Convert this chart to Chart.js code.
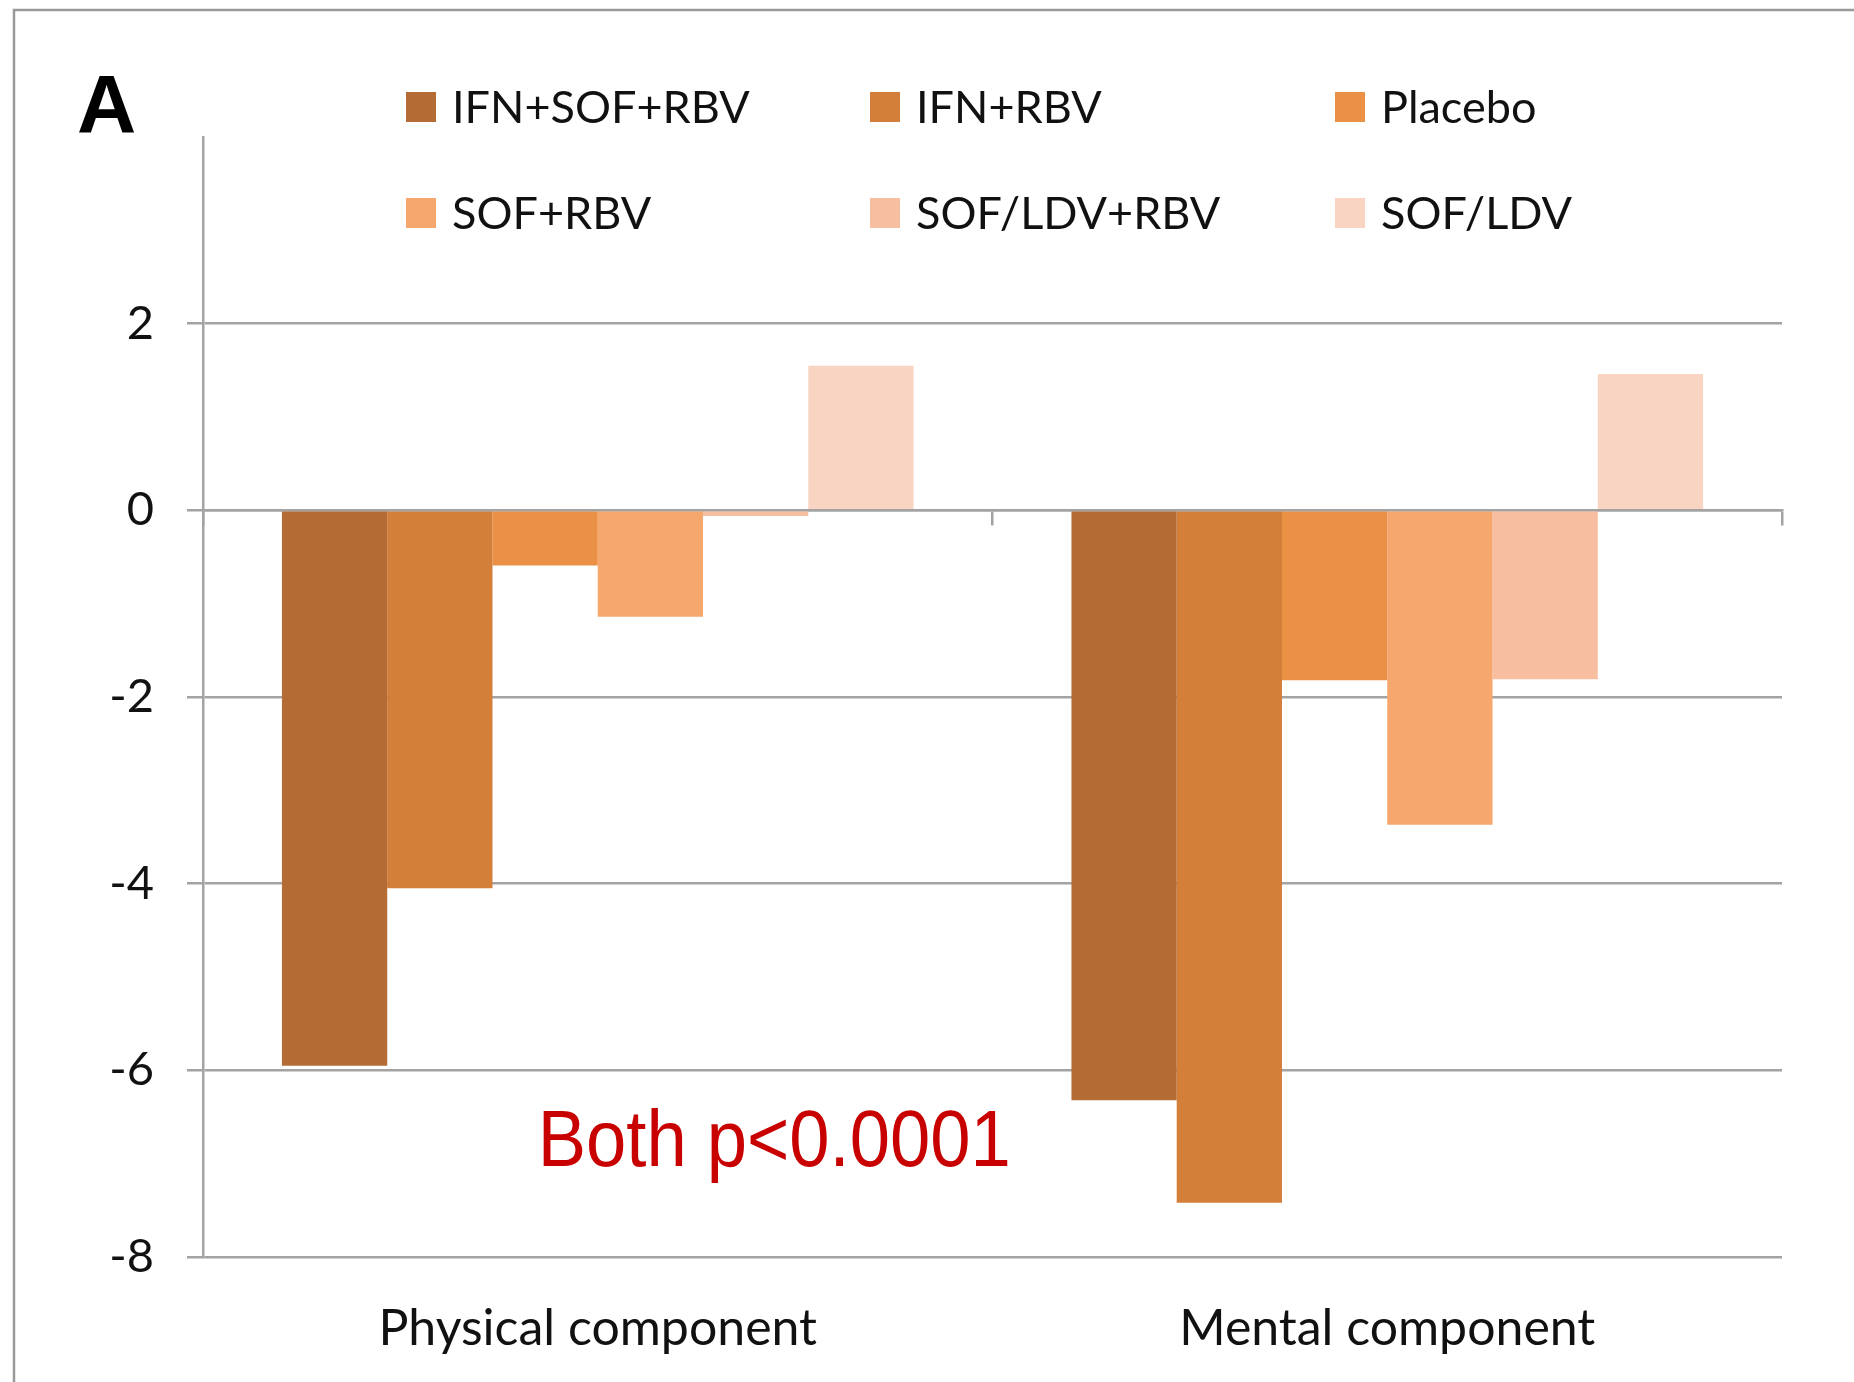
<!DOCTYPE html>
<html>
<head>
<meta charset="utf-8">
<title>Change in SF-36 component scores</title>
<script src="https://cdn.jsdelivr.net/npm/chart.js@4/dist/chart.umd.min.js"></script>
<style>
  html, body { margin: 0; padding: 0; background: #ffffff; }
  #wrap { position: relative; width: 1854px; height: 1382px; }
</style>
</head>
<body>
<div id="wrap"><canvas id="chart" width="1854" height="1382"></canvas></div>
<script>
// Categories and treatment arms
const categories = ['Physical component', 'Mental component'];
const seriesNames = ['IFN+SOF+RBV', 'IFN+RBV', 'Placebo', 'SOF+RBV', 'SOF/LDV+RBV', 'SOF/LDV'];

// Mean change from baseline, one value per category
const ifnSofRbv = [-5.95, -6.32];
const ifnRbv    = [-4.05, -7.42];
const placebo   = [-0.59, -1.82];
const sofRbv    = [-1.14, -3.37];
const sofLdvRbv = [-0.06, -1.81];
const sofLdv    = [1.55, 1.46];

const seriesColors = ['#B46C34', '#D37F3A', '#EB9145', '#F6A76E', '#F8BEA0', '#F9D4C2'];
const yTicks = [-8, -6, -4, -2, 0, 2, 4];
const panelLabel = 'A';
const noteText = 'Both p<0.0001';

const seriesValues = [ifnSofRbv, ifnRbv, placebo, sofRbv, sofLdvRbv, sofLdv];
const GRID = '#a3a3a3';
const TEXT = '#111111';

// Legend laid out as a 3-column grid above the plot
const gridLegend = {
  id: 'gridLegend',
  afterDraw(chart) {
    const ctx = chart.ctx;
    const colX = [406, 870, 1335];
    const rowY = [107, 213];
    const box = 30;
    ctx.save();
    ctx.font = '45px Lato';
    ctx.textBaseline = 'middle';
    ctx.textAlign = 'left';
    chart.data.datasets.forEach((ds, i) => {
      const x = colX[i % 3];
      const y = rowY[Math.floor(i / 3)];
      ctx.fillStyle = ds.backgroundColor;
      ctx.fillRect(x, y - box / 2, box, box);
      ctx.fillStyle = TEXT;
      ctx.fillText(ds.label, x + 46, y + 1);
    });
    ctx.restore();
  }
};

// Panel frame, panel letter and significance note
const decorations = {
  id: 'decorations',
  afterDraw(chart) {
    const ctx = chart.ctx;
    const area = chart.chartArea;
    const yScale = chart.scales.y;
    ctx.save();
    ctx.strokeStyle = '#9a9a9a';
    ctx.lineWidth = 2.5;
    ctx.beginPath();
    ctx.moveTo(14, chart.height);
    ctx.lineTo(14, 10);
    ctx.lineTo(chart.width, 10);
    ctx.stroke();

    ctx.fillStyle = '#000000';
    ctx.font = 'bold 82px "Liberation Sans"';
    ctx.textBaseline = 'alphabetic';
    ctx.textAlign = 'left';
    ctx.fillText(panelLabel, 77, 132);

    const nx = area.left + 0.212 * (area.right - area.left);
    const ny = yScale.getPixelForValue(-7.03);
    ctx.translate(nx, ny);
    ctx.scale(0.905, 1);
    ctx.fillStyle = '#C80000';
    ctx.font = '80px "Liberation Sans"';
    ctx.fillText(noteText, 0, 0);
    ctx.restore();
  }
};

new Chart(document.getElementById('chart'), {
  type: 'bar',
  data: {
    labels: categories,
    datasets: seriesNames.map((name, i) => ({
      label: name,
      data: seriesValues[i],
      backgroundColor: seriesColors[i],
      borderWidth: 0,
      categoryPercentage: 0.8,
      barPercentage: 1.0,
      xAxisID: 'x',
      yAxisID: 'y'
    }))
  },
  options: {
    responsive: false,
    animation: false,
    devicePixelRatio: 1,
    layout: { padding: { top: 137, right: 72, left: 0, bottom: 0 } },
    plugins: {
      legend: { display: false },
      tooltip: { enabled: false },
      title: { display: false }
    },
    scales: {
      x: {
        type: 'category',
        position: 'bottom',
        offset: true,
        grid: { display: false, drawTicks: false },
        border: { display: false },
        ticks: { color: TEXT, font: { family: 'Lato', size: 50 }, padding: 42, maxRotation: 0 },
        afterFit(s) { s.height = 125; }
      },
      xZero: {
        type: 'category',
        position: { y: 0 },
        offset: true,
        grid: {
          display: true, offset: true, drawOnChartArea: false, drawTicks: true,
          tickLength: 14, color: GRID, lineWidth: 2.5
        },
        border: { display: true, color: GRID, width: 2.5 },
        ticks: { display: false }
      },
      y: {
        min: -8,
        max: 4,
        afterBuildTicks(s) { s.ticks = yTicks.map(v => ({ value: v })); },
        ticks: {
          color: TEXT,
          font: { family: 'Lato', size: 47 },
          padding: 33,
          callback: v => (v === 4 ? '' : String(v))
        },
        grid: {
          color: c => (c.tick && c.tick.value === 4 ? 'rgba(0,0,0,0)' : GRID),
          lineWidth: 2.5,
          tickLength: 16
        },
        border: { display: true, color: GRID, width: 2.5 },
        afterFit(s) { s.width = 203; }
      }
    }
  },
  plugins: [gridLegend, decorations]
});
</script>
</body>
</html>
